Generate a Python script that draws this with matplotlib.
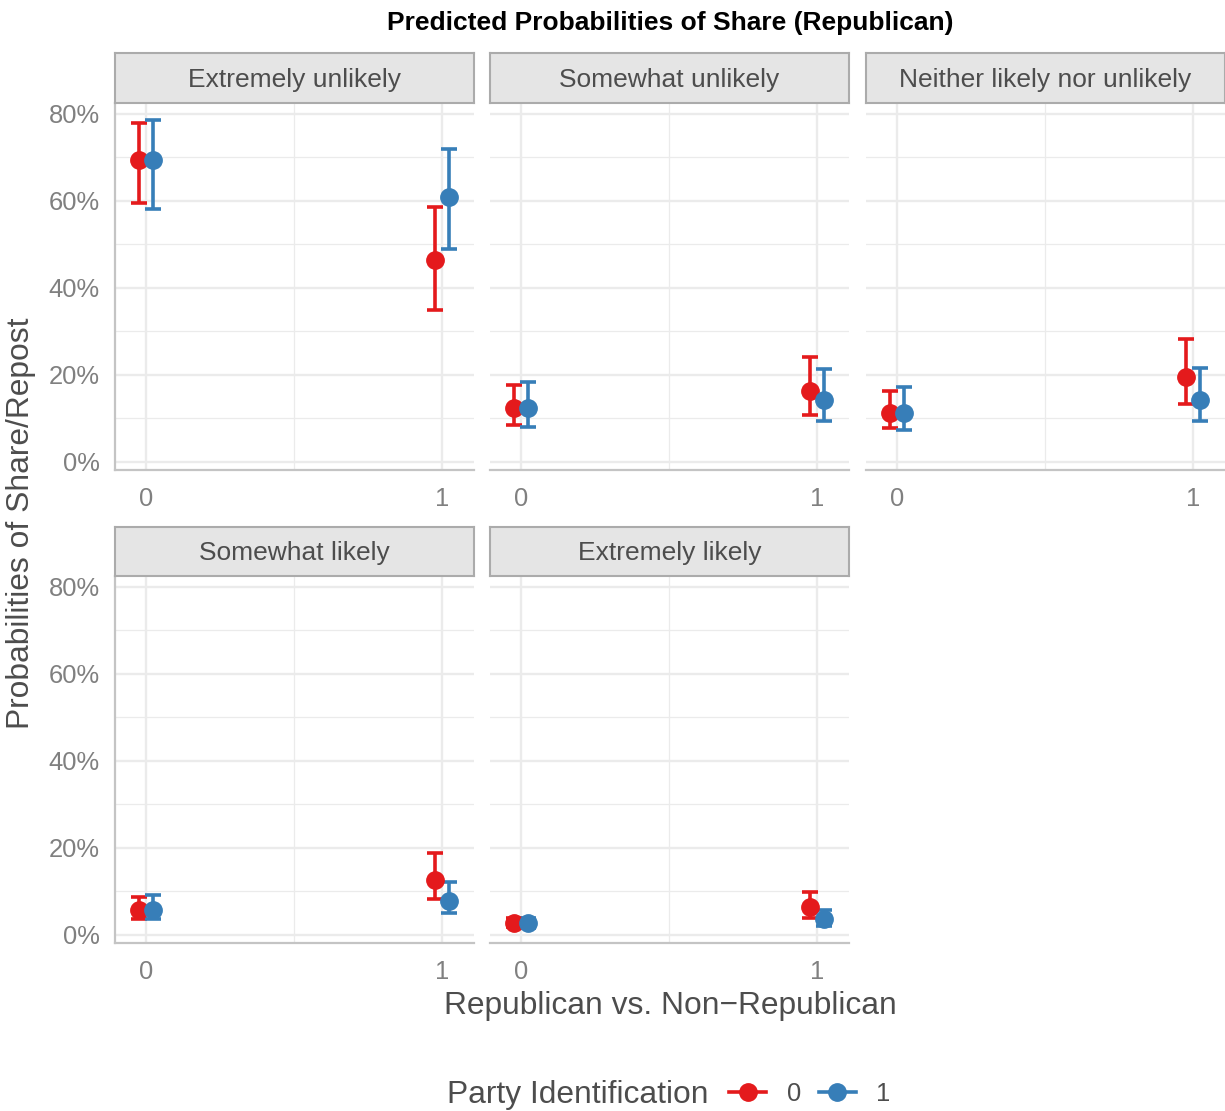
import matplotlib
matplotlib.use("Agg")
import matplotlib.pyplot as plt
from matplotlib.lines import Line2D
from matplotlib.ticker import PercentFormatter, MultipleLocator

plt.rcParams["font.family"] = ["Liberation Sans", "DejaVu Sans"]

# facets, x groups and party colours
facets = ["Extremely unlikely", "Somewhat unlikely", "Neither likely nor unlikely",
          "Somewhat likely", "Extremely likely"]
x_groups = [0, 1]
party = ["0", "1"]
colors = ["#E41A1C", "#377EB8"]

# predicted probabilities per facet: [party 0 at x=0, x=1], [party 1 at x=0, x=1]
est_p0 = [[0.694, 0.464], [0.124, 0.163], [0.113, 0.195], [0.057, 0.126], [0.027, 0.065]]
low_p0 = [[0.595, 0.349], [0.085, 0.108], [0.078, 0.133], [0.037, 0.083], [0.018, 0.039]]
high_p0 = [[0.779, 0.586], [0.177, 0.241], [0.163, 0.283], [0.087, 0.189], [0.039, 0.099]]

est_p1 = [[0.694, 0.609], [0.124, 0.143], [0.113, 0.143], [0.057, 0.078], [0.027, 0.037]]
low_p1 = [[0.582, 0.490], [0.080, 0.094], [0.074, 0.094], [0.037, 0.051], [0.017, 0.021]]
high_p1 = [[0.786, 0.720], [0.184, 0.214], [0.172, 0.216], [0.092, 0.122], [0.040, 0.057]]

W, H = 1225, 1111
fig = plt.figure(figsize=(W / 100, H / 100), dpi=100)

col_x = [115, 490, 866]
panel_w = 359
rows = [(53, 103, 470), (527, 576, 943)]  # strip top, plot top, plot bottom
dodge = 0.025

est = [est_p0, est_p1]
low = [low_p0, low_p1]
high = [high_p0, high_p1]

for i, name in enumerate(facets):
    r, c = divmod(i, 3)
    s_top, p_top, p_bot = rows[r]
    x0 = col_x[c]
    ax = fig.add_axes([x0 / W, 1 - p_bot / H, panel_w / W, (p_bot - p_top) / H])
    sax = fig.add_axes([x0 / W, 1 - p_top / H, panel_w / W, (p_top - s_top) / H])

    # strip
    sax.set_xticks([])
    sax.set_yticks([])
    sax.set_facecolor("#E5E5E5")
    for sp in sax.spines.values():
        sp.set_color("#ABABAB")
        sp.set_linewidth(1.5)
    sax.text(0.5, 0.47, name, ha="center", va="center", fontsize=19,
             color="#4D4D4D", transform=sax.transAxes)

    for g in range(2):
        xs = [x + (2 * g - 1) * dodge for x in x_groups]
        y = est[g][i]
        yerr = [[y[k] - low[g][i][k] for k in range(2)],
                [high[g][i][k] - y[k] for k in range(2)]]
        ax.errorbar(xs, y, yerr=yerr, fmt="o", color=colors[g], ms=12.5,
                    elinewidth=2.6, capsize=5.5, capthick=2.6, zorder=3)

    ax.set_xlim(-0.105, 1.108)
    ax.set_ylim(-0.0184, 0.825)
    ax.set_xticks(x_groups)
    ax.set_xticklabels([str(v) for v in x_groups])
    ax.xaxis.set_minor_locator(MultipleLocator(0.5))
    ax.yaxis.set_major_locator(MultipleLocator(0.2))
    ax.yaxis.set_minor_locator(MultipleLocator(0.1))
    ax.yaxis.set_major_formatter(PercentFormatter(1.0, decimals=0))
    ax.grid(which="major", color="#EBEBEB", lw=1.7)
    ax.grid(which="minor", color="#EBEBEB", lw=0.9)
    ax.set_axisbelow(True)
    ax.tick_params(which="both", length=0, labelsize=18.4, labelcolor="#808080")
    ax.tick_params(axis="y", pad=11)
    ax.tick_params(axis="x", pad=12)
    ax.spines["top"].set_visible(False)
    ax.spines["right"].set_visible(False)
    ax.spines["bottom"].set_color("#C4C4C4")
    ax.spines["bottom"].set_linewidth(1.6)
    if c == 0:
        ax.spines["left"].set_color("#C4C4C4")
        ax.spines["left"].set_linewidth(1.6)
    else:
        ax.spines["left"].set_visible(False)
        ax.set_yticklabels([])

fig.text(670 / W, 1 - 23 / H, "Predicted Probabilities of Share (Republican)",
         ha="center", va="center", fontsize=19, fontweight="bold", color="black")
fig.text(21 / W, 1 - 523 / H, "Probabilities of Share/Repost", rotation=90,
         ha="center", va="center", fontsize=22.9, color="#4D4D4D")
fig.text(670 / W, 1 - 1006 / H, "Republican vs. Non\u2212Republican",
         ha="center", va="center", fontsize=22.9, color="#4D4D4D")

# legend
fig.text(708 / W, 1 - 1095 / H, "Party Identification", ha="right", va="center",
         fontsize=22.9, color="#4D4D4D")
handles = [Line2D([], [], color=col, marker="o", ms=12.5, lw=2.6) for col in colors]
fig.legend(handles, party, loc="center left", bbox_to_anchor=(729 / W, 1 - 1094 / H),
           ncol=2, frameon=False, fontsize=18.4, labelcolor="#4D4D4D",
           handlelength=1.45, handletextpad=0.8, columnspacing=0.7, borderpad=0,
           borderaxespad=0)

fig.savefig("out.png", dpi=100)
